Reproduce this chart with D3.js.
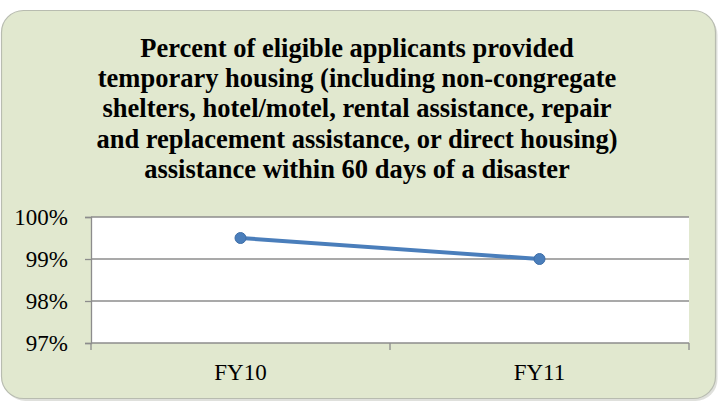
<!DOCTYPE html>
<html><head><meta charset="utf-8">
<script src="https://cdn.jsdelivr.net/npm/d3@7"></script>
</head><body style="margin:0">
<script>
const categories = ["FY10", "FY11"];
const values = [0.995, 0.990];
const yTicks = [0.97, 0.98, 0.99, 1.00];
const titleLines = [
  "Percent of eligible applicants provided",
  "temporary housing (including non-congregate",
  "shelters, hotel/motel, rental assistance, repair",
  "and replacement assistance, or direct housing)",
  "assistance within 60 days of a disaster"
];

const FONT = '"Liberation Serif"';
const W = 718, H = 403;
const svg = d3.select("body").append("svg").attr("width", W).attr("height", H);

// soft shadow built from offset rects (no filter)
svg.append("rect").attr("x",3.5).attr("y",13).attr("width",714).attr("height",388)
  .attr("rx",22).attr("fill","#c9cbc4").attr("opacity",0.6);
svg.append("rect").attr("x",1.5).attr("y",10.5).attr("width",714).attr("height",388)
  .attr("rx",22).attr("fill","#e1e8cf").attr("stroke","#b8bcb0").attr("stroke-width",1.2);

svg.selectAll("text.title").data(titleLines).join("text").attr("class","title")
  .attr("text-anchor","middle").attr("x",357).attr("y",(d,i)=>56.5 + i*30.4)
  .style("font-family",FONT).style("font-weight","bold").style("font-size","26.5px")
  .text(d=>d);

const m = {l:91, r:689, t:217, b:343};
const x = d3.scaleBand().domain(categories).range([m.l, m.r]);
const y = d3.scaleLinear().domain([0.97, 1.0]).range([m.b, m.t]);

svg.append("rect").attr("x",m.l).attr("y",m.t).attr("width",m.r-m.l).attr("height",m.b-m.t).attr("fill","#fff");

svg.append("g").selectAll("line").data(yTicks.filter(d=>d>0.97)).join("line")
  .attr("x1",m.l).attr("x2",m.r).attr("y1",d=>y(d)).attr("y2",d=>y(d))
  .attr("stroke","#8c8c8c").attr("stroke-width",1.3);

const fmt = d3.format(".0%");
const yAxis = svg.append("g").attr("transform",`translate(${m.l},0)`)
  .call(d3.axisLeft(y).tickValues(yTicks).tickFormat(fmt).tickSize(6).tickPadding(17));
yAxis.attr("font-family",null).attr("font-size",null);
yAxis.select(".domain").attr("stroke","#8c8c8c").attr("stroke-width",1.3);
yAxis.selectAll(".tick line").attr("stroke","#8c8c8c").attr("stroke-width",1.3);
yAxis.selectAll("text").style("font-family",FONT).style("font-size","23px").attr("fill","#000");

const xAxis = svg.append("g").attr("transform",`translate(0,${m.b})`)
  .call(d3.axisBottom(x).tickSize(0).tickPadding(20.5));
xAxis.attr("font-family",null).attr("font-size",null);
xAxis.select(".domain").remove();
xAxis.selectAll("text").style("font-family",FONT).style("font-size","23px").attr("fill","#000");
const bounds = [m.l, ...categories.map(c=>x(c)+x.bandwidth())];
svg.append("g").selectAll("line").data(bounds).join("line")
  .attr("x1",d=>d).attr("x2",d=>d).attr("y1",m.b).attr("y2",m.b+7)
  .attr("stroke","#8c8c8c").attr("stroke-width",1.3);
svg.append("line").attr("x1",m.l).attr("x2",m.r).attr("y1",m.b).attr("y2",m.b)
  .attr("stroke","#8c8c8c").attr("stroke-width",1.3);

const line = d3.line().x((d,i)=>x(categories[i])+x.bandwidth()/2).y(d=>y(d));
svg.append("path").datum(values).attr("d",line).attr("fill","none")
  .attr("stroke","#4a7ebb").attr("stroke-width",4).attr("stroke-linecap","round");
svg.append("g").selectAll("circle").data(values).join("circle")
  .attr("cx",(d,i)=>x(categories[i])+x.bandwidth()/2).attr("cy",d=>y(d)).attr("r",5.5)
  .attr("fill","#4a7ebb").attr("stroke","#3f6fa8").attr("stroke-width",1);
</script>
</body></html>
